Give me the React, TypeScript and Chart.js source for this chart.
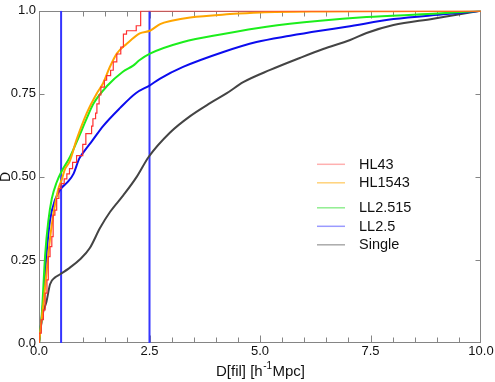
import React, { useEffect, useRef } from 'react';
import { Chart, registerables } from 'chart.js';
Chart.register(...registerables);

// ---- data ----
const xTickValues = [0, 2.5, 5, 7.5, 10];
const xTickLabels = ['0.0', '2.5', '5.0', '7.5', '10.0'];
const yTickValues = [0, 0.25, 0.5, 0.75, 1];
const yTickLabels = ['0.0', '0.25', '0.50', '0.75', '1.0'];
const xMinorStep = 0.5;

const seriesNames = ['HL43', 'HL1543', 'LL2.515', 'LL2.5', 'Single'];

const hl43X = [0, 0.05, 0.1, 0.14, 0.18, 0.21, 0.25, 0.29, 0.32, 0.36, 0.4, 0.45, 0.5, 0.57, 0.63, 0.69, 0.76, 0.85, 0.99, 1.06, 1.19, 1.22, 1.28, 1.31, 1.36, 1.4, 1.48, 1.53, 1.62, 1.68, 1.76, 1.85, 1.91, 1.98, 2.2, 2.3, 2.42, 10];
const hl43Y = [0, 0.03, 0.07, 0.1, 0.15, 0.19, 0.26, 0.29, 0.32, 0.385, 0.4, 0.435, 0.465, 0.48, 0.494, 0.509, 0.525, 0.544, 0.564, 0.598, 0.63, 0.653, 0.675, 0.692, 0.72, 0.747, 0.77, 0.791, 0.805, 0.821, 0.846, 0.87, 0.891, 0.93, 0.94, 0.955, 1.0, 1.0];

const hl1543X = [0, 0.1, 0.21, 0.29, 0.36, 0.44, 0.51, 0.59, 0.69, 0.85, 1.08, 1.31, 1.45, 1.6, 1.76, 1.98, 2.28, 2.51, 2.74, 3.0, 3.42, 4.32, 5.0, 6.5, 8.0, 10];
const hl1543Y = [0, 0.118, 0.267, 0.356, 0.415, 0.465, 0.49, 0.524, 0.545, 0.612, 0.692, 0.752, 0.782, 0.83, 0.871, 0.9, 0.932, 0.94, 0.96, 0.97, 0.98, 0.99, 0.995, 0.998, 0.999, 1];

const ll2515X = [0, 0.06, 0.14, 0.21, 0.29, 0.4, 0.5, 0.7, 0.9, 1.06, 1.23, 1.55, 1.89, 2.13, 2.27, 2.51, 3.26, 4.17, 5.15, 6.36, 7.41, 8.92, 10];
const ll2515Y = [0, 0.08, 0.267, 0.366, 0.435, 0.484, 0.514, 0.56, 0.62, 0.67, 0.72, 0.775, 0.816, 0.835, 0.851, 0.871, 0.906, 0.93, 0.952, 0.97, 0.981, 0.991, 1];

const ll25X = [0, 0.1, 0.17, 0.25, 0.36, 0.5, 0.65, 0.78, 0.91, 1.0, 1.21, 1.45, 1.83, 2.19, 2.5, 2.74, 3.26, 4.17, 4.92, 5.68, 6.36, 6.96, 8.02, 9.22, 10];
const ll25Y = [0, 0.13, 0.267, 0.37, 0.43, 0.465, 0.485, 0.509, 0.555, 0.573, 0.61, 0.653, 0.707, 0.752, 0.775, 0.796, 0.831, 0.876, 0.906, 0.925, 0.94, 0.952, 0.975, 0.99, 1];

const singleX = [0, 0.08, 0.17, 0.25, 0.36, 0.48, 0.7, 0.93, 1.15, 1.38, 1.61, 1.91, 2.21, 2.48, 2.96, 3.42, 3.87, 4.25, 4.62, 5.23, 5.9, 6.43, 7.04, 7.41, 8.02, 8.92, 9.45, 10];
const singleY = [0, 0.085, 0.125, 0.177, 0.197, 0.207, 0.227, 0.252, 0.286, 0.346, 0.395, 0.445, 0.5, 0.56, 0.633, 0.683, 0.722, 0.752, 0.785, 0.822, 0.858, 0.885, 0.912, 0.933, 0.957, 0.976, 0.988, 1.0];

const vLineX = [0.5, 2.5];

// ---- styles ----
const FONT = "'Liberation Sans', Arial, Helvetica, sans-serif";
const lineColors = ['#ff3030', '#ffa500', '#1cee1c', '#0c0cee', '#444444'];
const legendColors = ['#ffb0b0', '#ffd27a', '#90ee90', '#9a9aff', '#aaaaaa'];
const lineWidths = [1.2, 2, 2, 2, 2];
const vLineColor = '#3535ff';
const axisColor = '#858585';

const mk = (xs: number[], ys: number[]) => xs.map((x, i) => ({ x, y: ys[i] }));

const customPlugin = {
  id: 'custom',
  beforeDatasetsDraw(chart: any) {
    const { ctx, chartArea: a, scales } = chart;
    ctx.save();
    ctx.strokeStyle = axisColor;
    ctx.lineWidth = 1;
    const L = Math.round(a.left) + 0.5, R = Math.round(a.right) - 0.5;
    const T = Math.round(a.top) + 0.5, B = Math.round(a.bottom) - 0.5;
    ctx.strokeRect(L, T, R - L, B - T);
    ctx.beginPath();
    for (let v = xMinorStep; v < 10; v += xMinorStep) {
      const px = Math.round(scales.x.getPixelForValue(v)) + 0.5;
      const major = xTickValues.includes(v);
      const len = major ? 7 : 5;
      ctx.moveTo(px, B); ctx.lineTo(px, B - len);
      ctx.moveTo(px, T); ctx.lineTo(px, T + len);
    }
    for (const v of yTickValues) {
      if (v === 0 || v === 1) continue;
      const py = Math.round(scales.y.getPixelForValue(v)) + 0.5;
      ctx.moveTo(L, py); ctx.lineTo(L + 5, py);
      ctx.moveTo(R, py); ctx.lineTo(R - 5, py);
    }
    ctx.stroke();
    ctx.restore();
  },
  afterDraw(chart: any) {
    const { ctx, chartArea: a } = chart;
    ctx.save();
    // legend
    const lx = a.left + 278;
    let ly = a.top + 153.5;
    ctx.font = `14.5px ${FONT}`;
    ctx.textBaseline = 'middle';
    ctx.textAlign = 'left';
    seriesNames.forEach((name, i) => {
      ctx.strokeStyle = legendColors[i];
      ctx.lineWidth = 1.5;
      ctx.beginPath();
      ctx.moveTo(lx, ly);
      ctx.lineTo(lx + 28, ly);
      ctx.stroke();
      ctx.fillStyle = '#111';
      ctx.fillText(name, lx + 42, ly + 0.5);
      ly += i === 1 ? 25 : 18.5;
    });
    // x title with superscript
    const cx = (a.left + a.right) / 2;
    const base = a.bottom + 33;
    const p1 = 'D[fil] [h', sup = '-1', p2 = 'Mpc]';
    ctx.textBaseline = 'alphabetic';
    ctx.font = `15px ${FONT}`;
    const w1 = ctx.measureText(p1).width, w2 = ctx.measureText(p2).width;
    ctx.font = `10px ${FONT}`;
    const ws = ctx.measureText(sup).width;
    const x0 = cx - (w1 + ws + w2) / 2;
    ctx.fillStyle = '#111';
    ctx.font = `15px ${FONT}`;
    ctx.fillText(p1, x0, base);
    ctx.font = `10px ${FONT}`;
    ctx.fillText(sup, x0 + w1 + 0.5, base - 7);
    ctx.font = `15px ${FONT}`;
    ctx.fillText(p2, x0 + w1 + ws + 1, base);
    // y title
    ctx.translate(6, (a.top + a.bottom) / 2);
    ctx.rotate(-Math.PI / 2);
    ctx.textAlign = 'center';
    ctx.textBaseline = 'middle';
    ctx.font = `14px ${FONT}`;
    ctx.fillText('D', 0, 0);
    ctx.restore();
  },
};

export default function App() {
  const ref = useRef<HTMLCanvasElement | null>(null);
  useEffect(() => {
    if (!ref.current) return;
    const series = [mk(hl43X, hl43Y), mk(hl1543X, hl1543Y), mk(ll2515X, ll2515Y), mk(ll25X, ll25Y), mk(singleX, singleY)];
    const datasets: any[] = series.map((data, i) => ({
      label: seriesNames[i],
      data,
      borderColor: lineColors[i],
      borderWidth: lineWidths[i],
      pointRadius: 0,
      fill: false,
      stepped: i === 0 ? 'after' : false,
      cubicInterpolationMode: i === 0 ? 'default' : 'monotone',
    }));
    vLineX.forEach((v) => {
      datasets.push({
        label: 'v' + v,
        data: [{ x: v, y: 0 }, { x: v, y: 1 }],
        borderColor: vLineColor,
        borderWidth: 2,
        pointRadius: 0,
        fill: false,
      });
    });
    const chart = new Chart(ref.current, {
      type: 'line',
      data: { datasets },
      options: {
        responsive: false,
        animation: false,
        layout: { padding: { top: 6, right: 14, left: 0, bottom: 0 } },
        plugins: { legend: { display: false }, tooltip: { enabled: false } },
        scales: {
          x: {
            type: 'linear',
            min: 0,
            max: 10,
            afterBuildTicks: (s: any) => { s.ticks = xTickValues.map((v) => ({ value: v })); },
            afterFit: (s: any) => { s.height = 39; },
            grid: { display: false, drawTicks: false },
            border: { display: false },
            ticks: {
              autoSkip: false,
              maxRotation: 0,
              padding: 1,
              color: '#111',
              font: { family: FONT, size: 13 },
              callback: (v: any) => { const i = xTickValues.indexOf(Number(v)); return i >= 0 ? xTickLabels[i] : ''; },
            },
          },
          y: {
            type: 'linear',
            min: 0,
            max: 1,
            afterBuildTicks: (s: any) => { s.ticks = yTickValues.map((v) => ({ value: v })); },
            afterFit: (s: any) => { s.width = 39; },
            grid: { display: false, drawTicks: false },
            border: { display: false },
            ticks: {
              autoSkip: false,
              padding: 3,
              color: '#111',
              font: { family: FONT, size: 13 },
              callback: (v: any) => { const i = yTickValues.indexOf(Number(v)); return i >= 0 ? yTickLabels[i] : ''; },
            },
          },
        },
      },
      plugins: [customPlugin],
    } as any);
    return () => chart.destroy();
  }, []);
  return (
    <div style={{ position: 'absolute', left: 0, top: 0, width: 495, height: 382, background: '#fff' }}>
      <canvas ref={ref} width={495} height={382} style={{ display: 'block' }} />
    </div>
  );
}
